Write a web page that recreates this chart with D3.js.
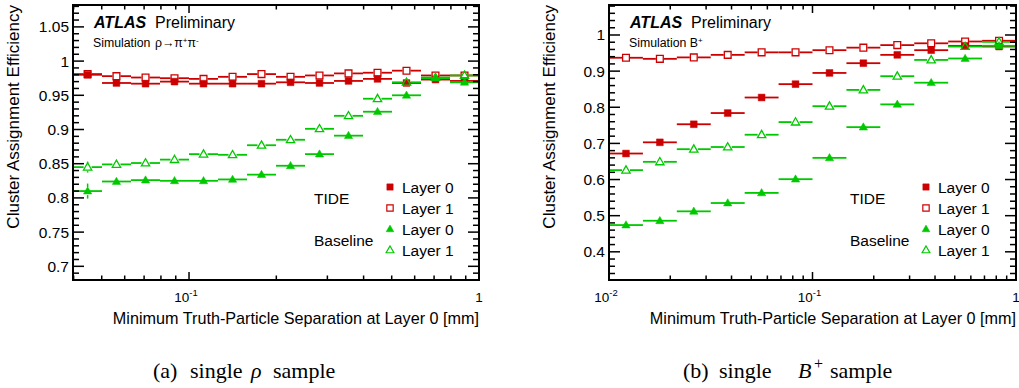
<!DOCTYPE html>
<html><head><meta charset="utf-8">
<script src="https://cdn.jsdelivr.net/npm/d3@7"></script>
<style>
body{margin:0;background:#fff;}
svg{display:block;font-family:"Liberation Sans",Arial,Helvetica,sans-serif;}
</style></head>
<body><svg id="c" width="1019" height="388"></svg>
<script>
// ---------------- DATA ----------------
// left panel: single rho sample
const leftEdges   = [0.0398,0.0501,0.0631,0.0794,0.1,0.1259,0.1585,0.1995,0.2512,0.3162,0.3981,0.5012,0.6310,0.7943,1.0];
const leftCenters = [0.0447,0.0562,0.0708,0.0891,0.1122,0.1413,0.1778,0.2239,0.2818,0.3548,0.4467,0.5623,0.7079,0.8913];
const leftTideL0  = [0.980,0.968,0.967,0.970,0.967,0.967,0.967,0.969,0.968,0.971,0.974,0.968,0.973,0.971];
const leftTideL1  = [0.981,0.978,0.976,0.975,0.974,0.977,0.981,0.977,0.979,0.982,0.983,0.986,0.979,0.979];
const leftBaseL0  = [0.810,0.824,0.826,0.825,0.825,0.827,0.834,0.847,0.864,0.891,0.926,0.950,0.975,0.969];
const leftBaseL1  = [0.845,0.849,0.851,0.856,0.864,0.863,0.877,0.885,0.901,0.920,0.945,0.969,0.976,0.979];
const leftErrTide = [0.003,0.002,0.002,0.002,0.002,0.002,0.002,0.002,0.002,0.002,0.002,0.002,0.002,0.002];
const leftErrBL0  = [0.011,0.004,0.003,0.003,0.003,0.003,0.003,0.003,0.003,0.003,0.003,0.003,0.003,0.003];
const leftErrBL1  = [0.008,0.004,0.003,0.003,0.003,0.003,0.003,0.003,0.003,0.003,0.003,0.003,0.003,0.003];
const leftYTicks  = [0.7,0.75,0.8,0.85,0.9,0.95,1,1.05];
const leftYLabels = ["0.7","0.75","0.8","0.85","0.9","0.95","1","1.05"];
const leftXTicks  = [0.1,1];
const leftXLabels = [["10","-1"],["1",""]];

// right panel: single B+ sample
const rightEdges   = [0.01,0.01468,0.02154,0.03162,0.04642,0.06813,0.1,0.1468,0.2154,0.3162,0.4642,0.6813,1.0];
const rightCenters = [0.01212,0.01778,0.02610,0.03831,0.05623,0.08254,0.1212,0.1778,0.2610,0.3831,0.5623,0.8254];
const rightTideL0  = [0.672,0.703,0.753,0.784,0.827,0.864,0.895,0.922,0.945,0.958,0.970,0.968];
const rightTideL1  = [0.937,0.934,0.938,0.945,0.952,0.952,0.958,0.965,0.972,0.977,0.982,0.984];
const rightBaseL0  = [0.474,0.486,0.512,0.535,0.563,0.601,0.660,0.745,0.808,0.868,0.935,0.970];
const rightBaseL1  = [0.626,0.649,0.684,0.690,0.724,0.759,0.803,0.848,0.886,0.931,0.968,0.981];
const rightErrTL0  = [0.009,0.005,0.004,0.004,0.003,0.003,0.003,0.003,0.003,0.003,0.003,0.003];
const rightErrOth  = [0.005,0.004,0.003,0.003,0.003,0.003,0.003,0.003,0.003,0.003,0.003,0.003];
const rightYTicks  = [0.4,0.5,0.6,0.7,0.8,0.9,1];
const rightYLabels = ["0.4","0.5","0.6","0.7","0.8","0.9","1"];
const rightXTicks  = [0.01,0.1,1];
const rightXLabels = [["10","-2"],["10","-1"],["1",""]];

const legendLabels = ["Layer 0","Layer 1","Layer 0","Layer 1"];
const groupLabels  = ["TIDE","Baseline"];

// ---------------- STYLE ----------------
const RED = "#cc0000", GREEN = "#00c800";
const svg = d3.select("#c");

function drawPanel(cfg){
  const {X0,X1,Y0,Y1} = cfg;
  const x = d3.scaleLog().domain(cfg.xDomain).range([X0,X1]);
  const y = d3.scaleLinear().domain(cfg.yDomain).range([Y1,Y0]);
  const g = svg.append("g");

  // series
  const clip = "clip"+X0;
  svg.append("clipPath").attr("id",clip).append("rect")
     .attr("x",X0).attr("y",Y0).attr("width",X1-X0).attr("height",Y1-Y0);
  const sg = g.append("g").attr("clip-path",`url(#${clip})`);
  const sqr = d3.symbol().type(d3.symbolSquare).size(46);
  const tri = d3.symbol().type(d3.symbolTriangle).size(30);
  cfg.series.forEach(s=>{
    const ss = sg.append("g");
    s.values.forEach((v,i)=>{
      const cx = x(cfg.centers[i]), cy = y(v);
      const xl = x(cfg.edges[i]), xr = x(cfg.edges[i+1]);
      const gap = s.open ? 4 : 0;
      ss.append("line").attr("x1",xl).attr("x2",cx-gap).attr("y1",cy).attr("y2",cy)
        .attr("stroke",s.color).attr("stroke-width",1.8);
      ss.append("line").attr("x1",cx+gap).attr("x2",xr).attr("y1",cy).attr("y2",cy)
        .attr("stroke",s.color).attr("stroke-width",1.8);
      const ey = Math.abs(y(v+s.err[i])-cy);
      if(ey>4){
        ss.append("line").attr("x1",cx).attr("x2",cx).attr("y1",cy-ey).attr("y2",cy-4)
          .attr("stroke",s.color).attr("stroke-width",1.5);
        ss.append("line").attr("x1",cx).attr("x2",cx).attr("y1",cy+4).attr("y2",cy+ey)
          .attr("stroke",s.color).attr("stroke-width",1.5);
      }
      ss.append("path").attr("d",(s.shape==="sq"?sqr:tri)())
        .attr("transform",`translate(${cx},${cy+(s.shape==="sq"?0:0.5)})`)
        .attr("fill",s.open?"#fff":s.color).attr("fill-opacity",s.open?0:1)
        .attr("stroke",s.color).attr("stroke-width",s.open?1.3:0.5);
    });
  });

  // frame
  g.append("rect").attr("x",X0).attr("y",Y0).attr("width",X1-X0).attr("height",Y1-Y0)
    .attr("fill","none").attr("stroke","#000").attr("stroke-width",2);

  // y ticks (inside, both sides)
  const yMinor = y.ticks(cfg.yMinorCount);
  const majSet = cfg.yTicks.map(d=>d.toFixed(3));
  yMinor.forEach(t=>{
    const isMaj = majSet.includes(t.toFixed(3));
    const L = isMaj?11:6;
    const yy = y(t);
    g.append("line").attr("x1",X0).attr("x2",X0+L).attr("y1",yy).attr("y2",yy).attr("stroke","#000").attr("stroke-width",1.5);
    g.append("line").attr("x1",X1).attr("x2",X1-L).attr("y1",yy).attr("y2",yy).attr("stroke","#000").attr("stroke-width",1.5);
  });
  cfg.yTicks.forEach((t,i)=>{
    g.append("text").attr("x",X0-4).attr("y",y(t)+5.5).attr("text-anchor","end")
      .attr("font-size",15.5).text(cfg.yLabels[i]);
  });

  // x ticks (log, inside, bottom and top)
  x.ticks().forEach(t=>{
    const isMaj = cfg.xTicks.some(m=>Math.abs(m-t)/m<1e-6);
    const L = isMaj?8:4.5;
    const xx = x(t);
    if(xx<X0-0.5||xx>X1+0.5) return;
    g.append("line").attr("x1",xx).attr("x2",xx).attr("y1",Y1).attr("y2",Y1-L).attr("stroke","#000").attr("stroke-width",1.5);
    g.append("line").attr("x1",xx).attr("x2",xx).attr("y1",Y0).attr("y2",Y0+L).attr("stroke","#000").attr("stroke-width",1.5);
  });
  cfg.xTicks.forEach((t,i)=>{
    const lab = cfg.xLabels[i];
    const tx = g.append("text").attr("x",x(t)-(lab[1]?3:0)).attr("y",302).attr("text-anchor","middle").attr("font-size",13.5);
    tx.append("tspan").text(lab[0]);
    if(lab[1]) tx.append("tspan").attr("dy",-6).attr("font-size",9.5).text(lab[1]);
  });

  // axis titles
  g.append("text").attr("x",X1).attr("y",324).attr("text-anchor","end").attr("font-size",16.2)
    .text("Minimum Truth-Particle Separation at Layer 0 [mm]");
  g.append("text").attr("transform",`translate(${cfg.yTitleX},${Y0}) rotate(-90)`)
    .attr("text-anchor","end").attr("font-size",17).text("Cluster Assignment Efficiency");

  // ATLAS label
  const ax = cfg.atlasX;
  g.append("text").attr("x",ax).attr("y",28).attr("font-size",16).attr("font-weight","bold")
    .attr("font-style","italic").text("ATLAS");
  g.append("text").attr("x",ax+61).attr("y",28).attr("font-size",16).text("Preliminary");
  const st = g.append("text").attr("x",ax-1).attr("y",46.5).attr("font-size",12.3);
  cfg.simText(st);

  // legend
  const lx = cfg.legX, rows=[187,208,229,250];
  cfg.series.forEach((s,i)=>{
    const sym = s.shape==="sq" ? d3.symbol().type(d3.symbolSquare).size(40)
                               : d3.symbol().type(d3.symbolTriangle).size(26);
    g.append("path").attr("d",sym()).attr("transform",`translate(${lx},${rows[i]+(s.shape==="sq"?0:0.5)})`)
      .attr("fill",s.open?"none":s.color).attr("stroke",s.color).attr("stroke-width",s.open?1.2:0.5);
    g.append("text").attr("x",lx+12).attr("y",rows[i]+5.5).attr("font-size",15.5).text(legendLabels[i]);
  });
  g.append("text").attr("x",cfg.grpX).attr("y",204).attr("font-size",15.5).text(groupLabels[0]);
  g.append("text").attr("x",cfg.grpX).attr("y",246).attr("font-size",15.5).text(groupLabels[1]);
}

drawPanel({
  X0:73, X1:479, Y0:5, Y1:280,
  xDomain:[leftEdges[0],1], yDomain:[0.68,1.082], yMinorCount:40,
  edges:leftEdges, centers:leftCenters,
  yTicks:leftYTicks, yLabels:leftYLabels, xTicks:leftXTicks, xLabels:leftXLabels,
  yTitleX:19, atlasX:94, legX:390, grpX:314,
  series:[
    {values:leftTideL0, err:leftErrTide, color:RED, shape:"sq", open:false},
    {values:leftTideL1, err:leftErrTide, color:RED, shape:"sq", open:true},
    {values:leftBaseL0, err:leftErrBL0, color:GREEN, shape:"tri", open:false},
    {values:leftBaseL1, err:leftErrBL1, color:GREEN, shape:"tri", open:true}
  ],
  simText: t=>{
    t.append("tspan").text("Simulation");
    t.append("tspan").attr("x",155).text("ρ→π");
    t.append("tspan").attr("dy",-4).attr("font-size",8).text("+");
    t.append("tspan").attr("dy",4).text("π");
    t.append("tspan").attr("dy",-4).attr("font-size",8).text("-");
  }
});

drawPanel({
  X0:609, X1:1016, Y0:5, Y1:280,
  xDomain:[rightEdges[0],1], yDomain:[0.322,1.083], yMinorCount:38,
  edges:rightEdges, centers:rightCenters,
  yTicks:rightYTicks, yLabels:rightYLabels, xTicks:rightXTicks, xLabels:rightXLabels,
  yTitleX:555, atlasX:630, legX:926, grpX:850,
  series:[
    {values:rightTideL0, err:rightErrTL0, color:RED, shape:"sq", open:false},
    {values:rightTideL1, err:rightErrOth, color:RED, shape:"sq", open:true},
    {values:rightBaseL0, err:rightErrOth, color:GREEN, shape:"tri", open:false},
    {values:rightBaseL1, err:rightErrOth, color:GREEN, shape:"tri", open:true}
  ],
  simText: t=>{
    t.append("tspan").text("Simulation B");
    t.append("tspan").attr("dy",-4).attr("font-size",8).text("+");
  }
});

// captions
const serif = '"Liberation Serif","Times New Roman",Times,serif';
const c1 = svg.append("text").attr("y",378).attr("font-family",serif).attr("font-size",22);
c1.append("tspan").attr("x",153).text("(a)");
c1.append("tspan").attr("x",190).text("single");
c1.append("tspan").attr("x",251).attr("font-style","italic").text("ρ");
c1.append("tspan").attr("x",273).text("sample");
const c2 = svg.append("text").attr("y",378).attr("font-family",serif).attr("font-size",22);
c2.append("tspan").attr("x",683).text("(b)");
c2.append("tspan").attr("x",719).text("single");
c2.append("tspan").attr("x",798).attr("font-style","italic").text("B");
c2.append("tspan").attr("x",814).attr("dy",-9).attr("font-size",16).text("+");
c2.append("tspan").attr("x",830).attr("dy",9).text("sample");
</script></body></html>
